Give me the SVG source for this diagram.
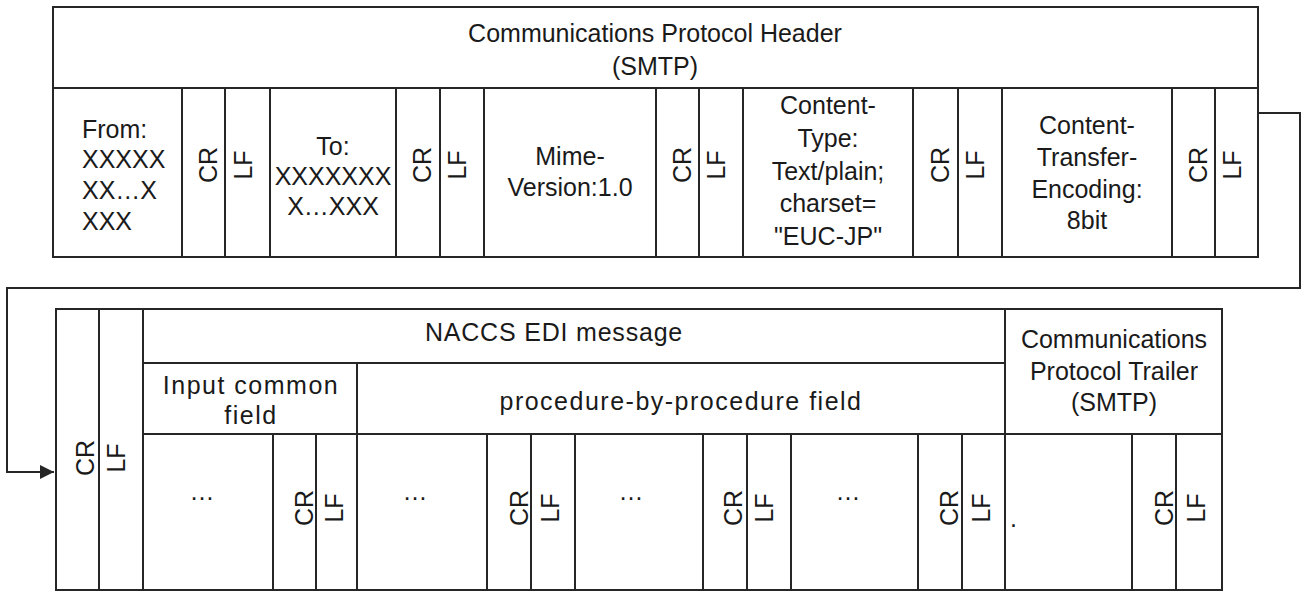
<svg xmlns="http://www.w3.org/2000/svg" width="1303" height="592" viewBox="0 0 1303 592">
<defs>
<style>
.b{fill:none;stroke:#262626;stroke-width:2}
.l{stroke:#262626;stroke-width:2}
text{font-family:"Liberation Sans",Arial,sans-serif;font-size:25px;fill:#1a1a1a}
.c{text-anchor:middle}
.ls{letter-spacing:1.5px}
</style>
<marker id="arr" viewBox="0 0 10 10" refX="10" refY="5" markerWidth="14" markerHeight="14" markerUnits="userSpaceOnUse" orient="auto">
<path d="M0,0 L10,5 L0,10 z" fill="#262626"/>
</marker>
</defs>
<rect width="1303" height="592" fill="#fff"/>

<g id="connectors">
<polyline class="b" points="1258,113 1300,113 1300,288 7,288 7,472 54,472" marker-end="url(#arr)"/>
</g>

<g id="header-block">
<rect class="b" x="53" y="7" width="1205" height="250"/>
<line class="l" x1="53" y1="88" x2="1258" y2="88"/>
<text class="c" x="655" y="42">Communications Protocol Header</text>
<text class="c" x="655" y="75">(SMTP)</text>
<g id="header-dividers">
<line class="l" x1="182" y1="88" x2="182" y2="257"/>
<line class="l" x1="225" y1="88" x2="225" y2="257"/>
<line class="l" x1="270" y1="88" x2="270" y2="257"/>
<line class="l" x1="396" y1="88" x2="396" y2="257"/>
<line class="l" x1="440" y1="88" x2="440" y2="257"/>
<line class="l" x1="484" y1="88" x2="484" y2="257"/>
<line class="l" x1="656" y1="88" x2="656" y2="257"/>
<line class="l" x1="699" y1="88" x2="699" y2="257"/>
<line class="l" x1="743" y1="88" x2="743" y2="257"/>
<line class="l" x1="913" y1="88" x2="913" y2="257"/>
<line class="l" x1="958" y1="88" x2="958" y2="257"/>
<line class="l" x1="1002" y1="88" x2="1002" y2="257"/>
<line class="l" x1="1172" y1="88" x2="1172" y2="257"/>
<line class="l" x1="1215" y1="88" x2="1215" y2="257"/>
</g>
<g id="from">
<text x="82" y="138">From:</text>
<text x="82" y="168">XXXXX</text>
<text x="82" y="199">XX…X</text>
<text x="82" y="230">XXX</text>
</g>
<g id="to">
<text class="c" x="333" y="155">To:</text>
<text class="c" x="333" y="185">XXXXXXX</text>
<text class="c" x="333" y="215">X…XXX</text>
</g>
<g id="mime">
<text class="c" x="570" y="165">Mime-</text>
<text class="c" x="570" y="196">Version:1.0</text>
</g>
<g id="content-type">
<text class="c" x="828" y="114">Content-</text>
<text class="c" x="828" y="147">Type:</text>
<text class="c" x="828" y="180">Text/plain;</text>
<text class="c" x="828" y="212">charset=</text>
<text class="c" x="828" y="245">"EUC-JP"</text>
</g>
<g id="cte">
<text class="c" x="1087" y="134">Content-</text>
<text class="c" x="1087" y="166">Transfer-</text>
<text class="c" x="1087" y="198">Encoding:</text>
<text class="c" x="1087" y="229">8bit</text>
</g>
<g id="header-crlf">
<text class="c" transform="translate(217,165) rotate(-90)">CR</text>
<text class="c" transform="translate(252,165) rotate(-90)">LF</text>
<text class="c" transform="translate(431,165) rotate(-90)">CR</text>
<text class="c" transform="translate(466,165) rotate(-90)">LF</text>
<text class="c" transform="translate(691,165) rotate(-90)">CR</text>
<text class="c" transform="translate(725,165) rotate(-90)">LF</text>
<text class="c" transform="translate(949,165) rotate(-90)">CR</text>
<text class="c" transform="translate(984,165) rotate(-90)">LF</text>
<text class="c" transform="translate(1207,165) rotate(-90)">CR</text>
<text class="c" transform="translate(1241,165) rotate(-90)">LF</text>
</g>
</g>

<g id="message-block">
<rect class="b" x="56" y="309" width="1166" height="281"/>
<line class="l" x1="99" y1="309" x2="99" y2="590"/>
<line class="l" x1="143" y1="309" x2="143" y2="590"/>
<line class="l" x1="1005" y1="309" x2="1005" y2="590"/>
<line class="l" x1="143" y1="363" x2="1005" y2="363"/>
<line class="l" x1="143" y1="434" x2="1222" y2="434"/>
<line class="l" x1="357" y1="363" x2="357" y2="590"/>
<g id="message-dividers">
<line class="l" x1="273" y1="434" x2="273" y2="590"/>
<line class="l" x1="316" y1="434" x2="316" y2="590"/>
<line class="l" x1="487" y1="434" x2="487" y2="590"/>
<line class="l" x1="531" y1="434" x2="531" y2="590"/>
<line class="l" x1="575" y1="434" x2="575" y2="590"/>
<line class="l" x1="703" y1="434" x2="703" y2="590"/>
<line class="l" x1="747" y1="434" x2="747" y2="590"/>
<line class="l" x1="791" y1="434" x2="791" y2="590"/>
<line class="l" x1="918" y1="434" x2="918" y2="590"/>
<line class="l" x1="962" y1="434" x2="962" y2="590"/>
<line class="l" x1="1132" y1="434" x2="1132" y2="590"/>
<line class="l" x1="1176" y1="434" x2="1176" y2="590"/>
</g>
<text class="c" transform="translate(94,458) rotate(-90)">CR</text>
<text class="c" transform="translate(125,458) rotate(-90)">LF</text>
<text class="c" x="554" y="341" style="letter-spacing:0.8px">NACCS EDI message</text>
<text class="c ls" x="251" y="394">Input common</text>
<text class="c ls" x="251" y="424">field</text>
<text class="c ls" x="681" y="410">procedure-by-procedure field</text>
<text class="c" x="1114" y="348">Communications</text>
<text class="c" x="1114" y="380">Protocol Trailer</text>
<text class="c" x="1114" y="411">(SMTP)</text>
<g id="message-cells">
<text class="c" x="202" y="500">…</text>
<text class="c" x="415" y="500">…</text>
<text class="c" x="631" y="500">…</text>
<text class="c" x="848" y="500">…</text>
<text x="1010" y="527">.</text>
<text class="c" transform="translate(313,508) rotate(-90)">CR</text>
<text class="c" transform="translate(343,508) rotate(-90)">LF</text>
<text class="c" transform="translate(528,508) rotate(-90)">CR</text>
<text class="c" transform="translate(559,508) rotate(-90)">LF</text>
<text class="c" transform="translate(742,508) rotate(-90)">CR</text>
<text class="c" transform="translate(773,508) rotate(-90)">LF</text>
<text class="c" transform="translate(958,508) rotate(-90)">CR</text>
<text class="c" transform="translate(990,508) rotate(-90)">LF</text>
<text class="c" transform="translate(1173,508) rotate(-90)">CR</text>
<text class="c" transform="translate(1205,508) rotate(-90)">LF</text>
</g>
</g>
</svg>
